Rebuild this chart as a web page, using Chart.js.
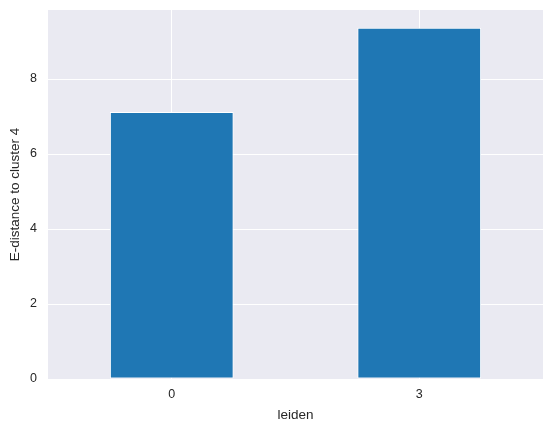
<!DOCTYPE html>
<html>
<head>
<meta charset="utf-8">
<script src="https://cdn.jsdelivr.net/npm/chart.js@4/dist/chart.umd.min.js"></script>
<style>
  html, body { margin: 0; padding: 0; background: #fff; }
  canvas { display: block; }
</style>
</head>
<body>
<canvas id="chart" width="553" height="432"></canvas>
<script>
// data
const categories = ["0", "3"];
const distances = [7.12, 9.37];
const yTicks = [0, 2, 4, 6, 8];

// seaborn darkgrid look: grey panel behind the plot
const panelBg = {
  id: "panelBg",
  beforeDraw(chart) {
    const { ctx, chartArea: a } = chart;
    ctx.save();
    ctx.fillStyle = "#eaeaf2";
    ctx.fillRect(a.left, a.top, a.right - a.left, a.bottom - a.top);
    ctx.restore();
  },
};

Chart.defaults.font.family = "'Liberation Sans', Arial, sans-serif";
Chart.defaults.font.size = 12.5;
Chart.defaults.color = "#262626";

const titleFont = { size: 13.5 };

const config = {
  type: "bar",
  data: {
    labels: categories,
    datasets: [
      {
        label: "E-distance",
        data: distances,
        backgroundColor: "#1f77b4",
        borderColor: "#ffffff",
        borderWidth: 1,
        borderSkipped: false,
        barPercentage: 0.5,
        categoryPercentage: 1.0,
      },
    ],
  },
  options: {
    responsive: false,
    animation: false,
    layout: { padding: { top: 10, right: 10, left: 0, bottom: 0 } },
    plugins: {
      legend: { display: false },
      tooltip: { enabled: false },
    },
    scales: {
      x: {
        offset: true,
        grid: { color: "#ffffff", lineWidth: 1, offset: false, drawTicks: false },
        border: { display: false },
        ticks: { padding: 8.5 },
        title: { display: true, text: "leiden", font: titleFont, padding: { top: 0, bottom: 8.4 } },
        afterFit: (s) => {
          s.height = 53;
          s.paddingLeft = 0;
          s.paddingRight = 0;
        },
      },
      y: {
        min: 0,
        max: 9.84,
        grid: { color: "#ffffff", lineWidth: 1, drawTicks: false },
        border: { display: false },
        afterBuildTicks: (s) => { s.ticks = yTicks.map((v) => ({ value: v })); },
        ticks: { padding: 11 },
        title: { display: true, text: "E-distance to cluster 4", font: titleFont, padding: { top: 6.9, bottom: 0 } },
        afterFit: (s) => {
          s.width = 48;
          s.paddingTop = 0;
          s.paddingBottom = 0;
        },
      },
    },
  },
  plugins: [panelBg],
};

const chart = new Chart(document.getElementById("chart"), config);
</script>
</body>
</html>
